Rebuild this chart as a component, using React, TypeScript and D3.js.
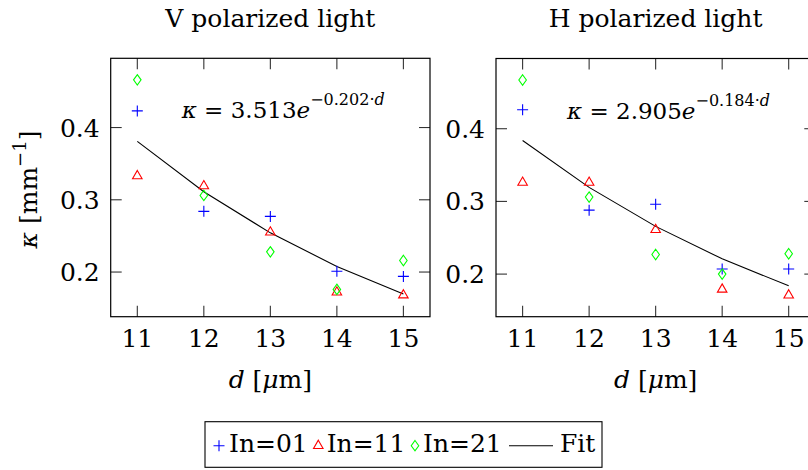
import React from 'react';
import * as d3 from 'd3';

// Film thickness samples (µm)
const dValues = [11, 12, 13, 14, 15];
const xTicks = [11, 12, 13, 14, 15];
const yTicks = [0.2, 0.3, 0.4];

// Attenuation coefficient κ [mm^-1], V polarized light
const vIn01 = [0.423, 0.284, 0.277, 0.201, 0.194];
const vIn11 = [0.333, 0.319, 0.255, 0.172, 0.168];
const vIn21 = [0.466, 0.306, 0.228, 0.176, 0.216];

// Attenuation coefficient κ [mm^-1], H polarized light
const hIn01 = [0.426, 0.288, 0.296, 0.207, 0.207];
const hIn11 = [0.326, 0.326, 0.261, 0.179, 0.171];
const hIn21 = [0.467, 0.306, 0.227, 0.2, 0.228];

// Exponential fit κ = a·exp(-b·d)
const vFit = { a: 3.513, b: 0.202 };
const hFit = { a: 2.905, b: 0.184 };

const seriesNames = ['In=01', 'In=11', 'In=21'];
const seriesColors = ['#0000ff', '#ff0000', '#00ff00'];
const markKinds = ['plus', 'triangle', 'diamond'];

const FONT = "'DejaVu Serif', 'Liberation Serif', serif";
const FS = 25;
const SUP = 18;
const EQ_FS = 23;
const EQ_SUP = 16;
const MARK_R = 5.5;

function markPath(kind: string, x: number, y: number, r: number): string {
  if (kind === 'plus') {
    return `M${x - r},${y}H${x + r}M${x},${y - r}V${y + r}`;
  }
  if (kind === 'triangle') {
    const h = (r * Math.sqrt(3)) / 2;
    return `M${x},${y - r}L${x + h},${y + r / 2}L${x - h},${y + r / 2}Z`;
  }
  const rr = r * 0.95;
  const w = rr * 0.72;
  return `M${x},${y - rr}L${x + w},${y}L${x},${y + rr}L${x - w},${y}Z`;
}

function paddedExtent(vals: number[]): [number, number] {
  const [lo, hi] = d3.extent(vals) as [number, number];
  const pad = (hi - lo) * 0.1;
  return [lo - pad, hi + pad];
}

type PanelProps = {
  left: number;
  right: number;
  top: number;
  bottom: number;
  title: string;
  series: number[][];
  fit: { a: number; b: number };
  yLabel: boolean;
};

function Panel({ left, right, top, bottom, title, series, fit, yLabel }: PanelProps) {
  const fitVals = dValues.map((d) => fit.a * Math.exp(-fit.b * d));
  const x = d3.scaleLinear().domain(paddedExtent(dValues)).range([left, right]);
  const y = d3
    .scaleLinear()
    .domain(paddedExtent([...series.flat(), ...fitVals]))
    .range([bottom, top]);

  const line = d3
    .line<number>()
    .x((_, i) => x(dValues[i]))
    .y((v) => y(v));

  const tickLen = 11;
  const cx = (left + right) / 2;
  const cy = (top + bottom) / 2;

  return (
    <g>
      <text x={cx} y={27} textAnchor="middle">
        {title}
      </text>

      {/* ticks on all four sides, pointing inward */}
      {xTicks.map((t) => (
        <g key={'xt' + t} stroke="#333" strokeWidth={1.1}>
          <line x1={x(t)} x2={x(t)} y1={bottom} y2={bottom - tickLen} />
          <line x1={x(t)} x2={x(t)} y1={top} y2={top + tickLen} />
        </g>
      ))}
      {yTicks.map((t) => (
        <g key={'yt' + t} stroke="#333" strokeWidth={1.1}>
          <line x1={left} x2={left + tickLen} y1={y(t)} y2={y(t)} />
          <line x1={right} x2={right - tickLen} y1={y(t)} y2={y(t)} />
        </g>
      ))}

      <rect
        x={left}
        y={top}
        width={right - left}
        height={bottom - top}
        fill="none"
        stroke="#000"
        strokeWidth={1.2}
      />

      {xTicks.map((t) => (
        <text key={'xl' + t} x={x(t)} y={bottom + 30} textAnchor="middle">
          {t}
        </text>
      ))}
      {yTicks.map((t) => (
        <text key={'yl' + t} x={left - 11} y={y(t) + 9} textAnchor="end">
          {t.toFixed(1)}
        </text>
      ))}

      <text x={cx} y={388} textAnchor="middle">
        <tspan fontStyle="italic">d</tspan> [<tspan fontStyle="italic">μ</tspan>m]
      </text>

      {yLabel && (
        <text transform={`translate(37,${cy + 2}) rotate(-90)`} textAnchor="middle">
          <tspan fontStyle="italic">κ</tspan> [mm
          <tspan dy={-11} fontSize={SUP}>−1</tspan>
          <tspan dy={11}>]</tspan>
        </text>
      )}

      <path d={line(fitVals) ?? ''} fill="none" stroke="#000" strokeWidth={1.1} />

      {series.map((vals, si) => (
        <g key={'s' + si} fill="none" stroke={seriesColors[si]} strokeWidth={1.1}>
          {vals.map((v, i) => (
            <path key={i} d={markPath(markKinds[si], x(dValues[i]), y(v), MARK_R)} />
          ))}
        </g>
      ))}

      <text x={left + 71} y={top + 60} fontSize={EQ_FS}>
        <tspan fontStyle="italic">κ</tspan> = {fit.a.toFixed(3)}
        <tspan fontStyle="italic">e</tspan>
        <tspan dy={-13} fontSize={EQ_SUP}>
          −{fit.b.toFixed(3)}·
        </tspan>
        <tspan fontSize={EQ_SUP} fontStyle="italic">d</tspan>
      </text>
    </g>
  );
}

function Legend() {
  const box = { x: 205, y: 421.7, w: 397, h: 45.6 };
  const my = 445.7;
  const textY = 452.3;
  const entries = [
    { mx: 219, tx: 229 },
    { mx: 318.3, tx: 326.7 },
    { mx: 415, tx: 423 },
  ];
  return (
    <g>
      <rect x={box.x} y={box.y} width={box.w} height={box.h} fill="#fff" stroke="#000" strokeWidth={1.1} />
      {entries.map((e, i) => (
        <g key={i}>
          <path d={markPath(markKinds[i], e.mx, my, MARK_R)} fill="none" stroke={seriesColors[i]} strokeWidth={1.1} />
          <text x={e.tx} y={textY}>
            {seriesNames[i]}
          </text>
        </g>
      ))}
      <line x1={509} x2={553} y1={my} y2={my} stroke="#000" strokeWidth={1.1} />
      <text x={560} y={textY}>
        Fit
      </text>
    </g>
  );
}

export default function App() {
  return (
    <svg
      width={808}
      height={470}
      viewBox="0 0 808 470"
      fontFamily={FONT}
      fontSize={FS}
      style={{ position: 'absolute', left: 0, top: 0, background: '#fff', fontFamily: FONT }}
    >
      <rect width={808} height={470} fill="#fff" />
      <Panel
        left={110.7}
        right={430}
        top={58.3}
        bottom={316.7}
        title="V polarized light"
        series={[vIn01, vIn11, vIn21]}
        fit={vFit}
        yLabel={true}
      />
      <Panel
        left={496}
        right={815.3}
        top={58.5}
        bottom={316.7}
        title="H polarized light"
        series={[hIn01, hIn11, hIn21]}
        fit={hFit}
        yLabel={false}
      />
      <Legend />
    </svg>
  );
}
